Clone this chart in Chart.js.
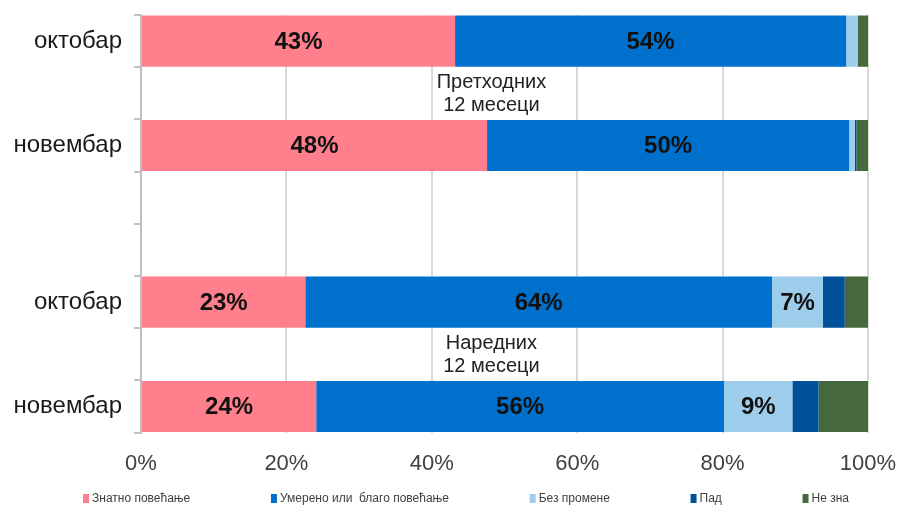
<!DOCTYPE html>
<html>
<head>
<meta charset="utf-8">
<script src="https://cdn.jsdelivr.net/npm/chart.js@4.4.1/dist/chart.umd.min.js"></script>
<style>
  html, body { margin: 0; padding: 0; background: #fff; }
  #wrap { width: 900px; height: 506px; }
</style>
</head>
<body>
<div id="wrap"><canvas id="barChart"></canvas></div>
<script>
// rows: top to bottom, empty strings are spacer rows
var categories = ["октобар", "", "новембар", "", "", "октобар", "", "новембар"];
var seriesNames = ["Знатно повећање", "Умерено или  благо повећање", "Без промене", "Пад", "Не зна"];
var seriesColors = ["#ff808c", "#0070cd", "#9ecdeb", "#00519a", "#45693c"];
var showValues = [true, true, true, false, false];

var strongRise = [43.2, null, 47.6, null, null, 22.6, null, 24.1];
var moderateRise = [53.8, null, 49.8, null, null, 64.2, null, 56.1];
var noChange = [1.6, null, 0.8, null, null, 7.0, null, 9.4];
var fall = [0, null, 0.2, null, null, 3.0, null, 3.6];
var dontKnow = [1.4, null, 1.6, null, null, 3.2, null, 6.8];

var groupLabels = [
  { row: 1, lines: ["Претходних", "12 месеци"] },
  { row: 6, lines: ["Наредних", "12 месеци"] }
];
var groupLabelX = 48.2;
var xTicks = [0, 20, 40, 60, 80, 100];

var allSeries = [strongRise, moderateRise, noChange, fall, dontKnow];

var valueLabels = {
  id: "valueLabels",
  afterDatasetsDraw: function (chart) {
    var ctx = chart.ctx;
    ctx.save();
    ctx.font = "bold 24px 'Liberation Sans', Arial, sans-serif";
    ctx.fillStyle = "#111";
    ctx.textAlign = "center";
    ctx.textBaseline = "middle";
    chart.data.datasets.forEach(function (ds, i) {
      if (!showValues[i]) return;
      var meta = chart.getDatasetMeta(i);
      meta.data.forEach(function (bar, j) {
        var v = ds.data[j];
        if (v == null || v < 5) return;
        ctx.fillText(Math.round(v) + "%", (bar.x + bar.base) / 2, bar.y + 1);
      });
    });
    // group captions in the spacer rows
    var xs = chart.scales.x, ys = chart.scales.y;
    ctx.font = "20px 'Liberation Sans', Arial, sans-serif";
    ctx.fillStyle = "#222";
    groupLabels.forEach(function (g) {
      var cy = ys.getPixelForValue(g.row);
      ctx.fillText(g.lines[0], xs.getPixelForValue(groupLabelX), cy - 11);
      ctx.fillText(g.lines[1], xs.getPixelForValue(groupLabelX), cy + 12);
    });
    ctx.restore();
  }
};

// legend spread out like the original
var bottomLegend = {
  id: "bottomLegend",
  afterDraw: function (chart) {
    var ctx = chart.ctx;
    var left = 83, right = 849, y = 498;
    ctx.save();
    ctx.font = "12px 'Liberation Sans Narrow', 'Liberation Sans', Arial, sans-serif";
    var widths = seriesNames.map(function (n) { return 6 + 3 + ctx.measureText(n).width; });
    var total = widths.reduce(function (a, b) { return a + b; }, 0);
    var gap = (right - left - total) / (seriesNames.length - 1);
    var x = left;
    ctx.textBaseline = "middle";
    ctx.textAlign = "left";
    seriesNames.forEach(function (n, i) {
      ctx.fillStyle = seriesColors[i];
      ctx.fillRect(x, y - 4, 6, 9);
      ctx.fillStyle = "#404040";
      ctx.fillText(n, x + 9, y + 1);
      x += widths[i] + gap;
    });
    ctx.restore();
  }
};

var ctx = document.getElementById("barChart").getContext("2d");
var barChart = new Chart(ctx, {
  type: "bar",
  data: {
    labels: categories,
    datasets: seriesNames.map(function (name, i) {
      return {
        label: name,
        data: allSeries[i],
        backgroundColor: seriesColors[i],
        borderWidth: 0,
        barPercentage: 0.98,
        categoryPercentage: 1
      };
    })
  },
  options: {
    indexAxis: "y",
    responsive: true,
    maintainAspectRatio: false,
    animation: false,
    layout: { padding: { left: 0, right: 0, top: 0, bottom: 11 } },
    plugins: {
      legend: { display: false },
      tooltip: { enabled: false }
    },
    scales: {
      x: {
        stacked: true,
        min: 0,
        max: 100,
        afterBuildTicks: function (scale) {
          scale.ticks = xTicks.map(function (v) { return { value: v }; });
        },
        afterFit: function (scale) {
          scale.paddingLeft = 0;
          scale.paddingRight = 32;
        },
        grid: { color: "#d9d9d9", lineWidth: 2, drawTicks: false },
        border: { display: false },
        ticks: {
          padding: 18,
          color: "#404040",
          font: { size: 22, family: "'Liberation Sans', Arial, sans-serif" },
          callback: function (v) { return v + "%"; }
        }
      },
      y: {
        stacked: true,
        afterFit: function (scale) {
          scale.width = 141;
          scale.paddingTop = 15;
          scale.paddingBottom = 0;
        },
        grid: { display: true, drawOnChartArea: false, tickLength: 7, color: "#c0c0c0", lineWidth: 2, offset: true },
        border: { display: true, color: "#c0c0c0", width: 2 },
        ticks: {
          autoSkip: false,
          padding: 12,
          color: "#1a1a1a",
          font: { size: 24, family: "'Liberation Sans', Arial, sans-serif" }
        }
      }
    }
  },
  plugins: [valueLabels, bottomLegend]
});
</script>
</body>
</html>
